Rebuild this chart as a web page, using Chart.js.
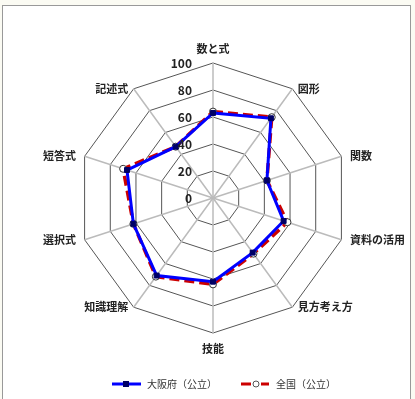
<!DOCTYPE html>
<html>
<head>
<meta charset="utf-8">
<script src="https://cdn.jsdelivr.net/npm/chart.js@4.4.1/dist/chart.umd.min.js"></script>
<style>
  html, body { margin: 0; padding: 0; background: #fbfbf3; overflow: hidden; }
  #frame {
    position: absolute; left: 2px; top: 5px;
    width: 407px; height: 400px;
    border: 1px solid #999; background: #fff;
  }
  #radar { display: block; }
</style>
</head>
<body>
<div id="frame"><canvas id="radar" width="407" height="393"></canvas></div>
<script>
// 観点別・問題形式別の平均正答率
var categories = ['数と式', '図形', '関数', '資料の活用', '見方考え方', '技能', '知識理解', '選択式', '短答式', '記述式'];
var osakaValues = [63, 73, 42, 55, 50, 62, 71, 62, 67, 47];
var zenkokuValues = [64, 74, 42, 58, 51, 64, 72, 62, 70, 47];
var tickValues = [0, 20, 40, 60, 80, 100];

var jpFont = '"Noto Sans CJK JP", "Noto Sans", sans-serif';

// legend markers: line with the series marker in the middle (left part kept empty)
function legendMark(kind) {
    var c = document.createElement('canvas');
    c.width = 52;
    c.height = 10;
    var g = c.getContext('2d');
    g.translate(22, 0);
    if (kind === 'osaka') {
        g.strokeStyle = '#0000ff';
        g.lineWidth = 3;
        g.beginPath();
        g.moveTo(0, 5);
        g.lineTo(29, 5);
        g.stroke();
        g.fillStyle = '#000066';
        g.fillRect(11, 2, 6, 6);
    } else {
        g.strokeStyle = '#cc0000';
        g.lineWidth = 3;
        g.beginPath();
        g.moveTo(0, 5);
        g.lineTo(10, 5);
        g.moveTo(20, 5);
        g.lineTo(28, 5);
        g.stroke();
        g.fillStyle = '#fff';
        g.strokeStyle = '#555';
        g.lineWidth = 1;
        g.beginPath();
        g.arc(15, 5, 3, 0, Math.PI * 2);
        g.fill();
        g.stroke();
    }
    return c;
}

// category names beside each spoke, centred on the spoke end height
var spokeLabels = {
    id: 'spokeLabels',
    afterDraw: function (chart) {
        var r = chart.scales.r;
        var ctx = chart.ctx;
        ctx.save();
        ctx.font = 'bold 11px ' + jpFont;
        ctx.fillStyle = '#222';
        chart.data.labels.forEach(function (text, i) {
            var tip = r.getPointPosition(i, r.drawingArea);
            var pos = r.getPointPosition(i, r.drawingArea + 9);
            var dx = pos.x - r.xCenter;
            if (Math.abs(dx) < 1) {
                ctx.textAlign = 'center';
                if (pos.y < r.yCenter) {
                    ctx.textBaseline = 'bottom';
                    ctx.fillText(text, pos.x, pos.y);
                } else {
                    ctx.textBaseline = 'top';
                    ctx.fillText(text, pos.x, pos.y + 1);
                }
            } else {
                ctx.textAlign = dx > 0 ? 'left' : 'right';
                ctx.textBaseline = 'middle';
                ctx.fillText(text, pos.x, tip.y);
            }
        });
        ctx.restore();
    }
};

// tick numbers sit to the left of the vertical axis
var tickLabels = {
    id: 'tickLabels',
    afterDatasetsDraw: function (chart) {
        var r = chart.scales.r;
        var ctx = chart.ctx;
        ctx.save();
        ctx.font = 'bold 12px ' + jpFont;
        ctx.fillStyle = '#222';
        ctx.textAlign = 'right';
        ctx.textBaseline = 'middle';
        tickValues.forEach(function (v) {
            var d = r.getDistanceFromCenterForValue(v);
            ctx.fillText(String(v), r.xCenter - 21, r.yCenter - d);
        });
        ctx.restore();
    }
};

var ctx = document.getElementById('radar').getContext('2d');
var radar = new Chart(ctx, {
    type: 'radar',
    data: {
        labels: categories,
        datasets: [
            {
                label: '大阪府（公立）',
                data: osakaValues,
                borderColor: '#0000ff',
                borderWidth: 3,
                fill: false,
                pointStyle: 'rect',
                pointRadius: 3.5,
                pointBackgroundColor: '#000066',
                pointBorderColor: '#000066',
                pointBorderWidth: 1
            },
            {
                label: '全国（公立）',
                data: zenkokuValues,
                borderColor: '#cc0000',
                borderWidth: 3.5,
                borderDash: [10, 5],
                fill: false,
                pointStyle: 'circle',
                pointRadius: 3.5,
                pointBackgroundColor: '#ffffff',
                pointBorderColor: '#333',
                pointBorderWidth: 1
            }
        ]
    },
    options: {
        responsive: false,
        animation: false,
        layout: {
            padding: { top: 13, left: 75, right: 62, bottom: 0 }
        },
        plugins: {
            tooltip: { enabled: false },
            legend: {
                position: 'bottom',
                labels: {
                    usePointStyle: true,
                    pointStyleWidth: 52,
                    padding: 2,
                    color: '#333',
                    font: { family: jpFont, size: 10 },
                    generateLabels: function (chart) {
                        return chart.data.datasets.map(function (ds, i) {
                            return {
                                text: ds.label,
                                pointStyle: legendMark(i === 0 ? 'osaka' : 'zenkoku'),
                                datasetIndex: i,
                                fontColor: '#333',
                                lineWidth: 0
                            };
                        });
                    }
                }
            }
        },
        scales: {
            r: {
                min: 0,
                max: 100,
                ticks: { stepSize: 20, display: false },
                grid: { color: '#555', lineWidth: 1 },
                angleLines: { color: '#bbb', lineWidth: 1.5 },
                pointLabels: { display: false }
            }
        }
    },
    plugins: [spokeLabels, tickLabels]
});
</script>
</body>
</html>
